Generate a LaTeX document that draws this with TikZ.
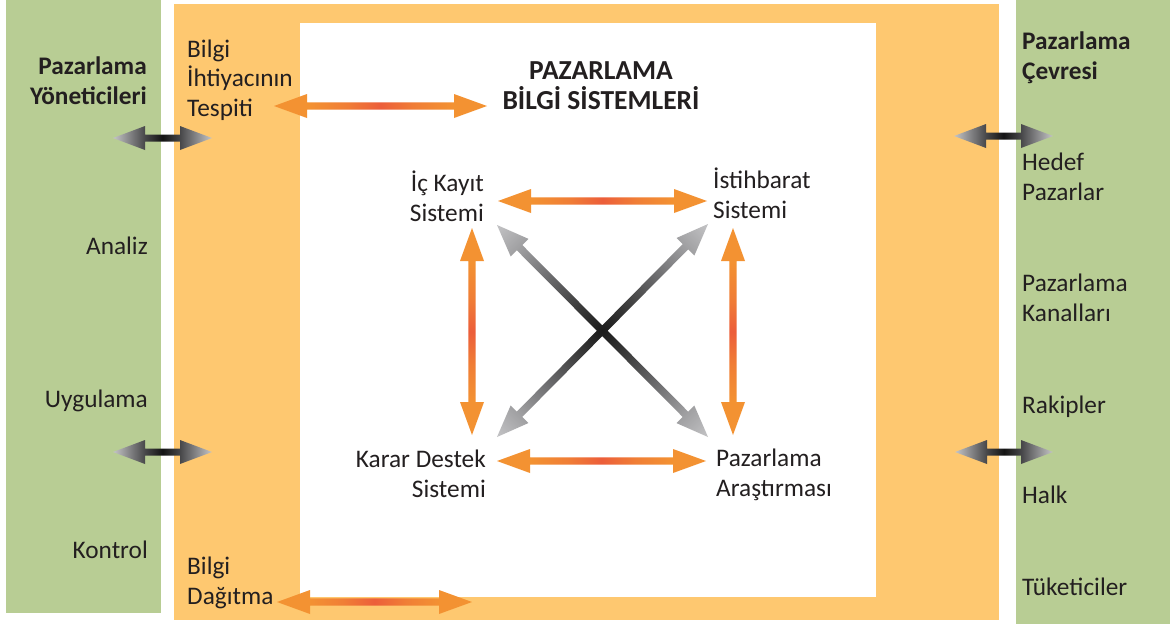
\documentclass[tikz,border=0pt]{standalone}
\usepackage{fontspec}
\setmainfont{Carlito}
\usetikzlibrary{calc}
\definecolor{pgreen}{HTML}{B8CD94}
\definecolor{porange}{HTML}{FEC870}
\definecolor{arrA}{HTML}{F39232}
\definecolor{arrM}{HTML}{F07E36}
\definecolor{arrB}{HTML}{EC5E3A}
\definecolor{txt}{HTML}{231F20}
\definecolor{gLight}{HTML}{C6C6C8}
\definecolor{gDark}{HTML}{48484A}
\definecolor{gBlack}{HTML}{141414}
\definecolor{xA}{HTML}{1A1A1A}
\definecolor{xB}{HTML}{3C3C3C}
\definecolor{xC}{HTML}{6C6C6E}
\definecolor{xD}{HTML}{9C9C9E}
\definecolor{xE}{HTML}{C2C2C4}
\pgfdeclarehorizontalshading{orangearr}{100bp}{color(0bp)=(arrA); color(33bp)=(arrA); color(42bp)=(arrM); color(50bp)=(arrB); color(58bp)=(arrM); color(67bp)=(arrA); color(100bp)=(arrA)}
\pgfdeclarehorizontalshading{grayarr}{100bp}{color(0bp)=(gLight); color(25bp)=(gLight); color(41bp)=(gDark); color(50bp)=(gBlack); color(59bp)=(gDark); color(75bp)=(gLight); color(100bp)=(gLight)}
\pgfdeclareradialshading{xshade}{\pgfpoint{0bp}{0bp}}{color(0bp)=(xA); color(8bp)=(xB); color(18bp)=(xC); color(27bp)=(xD); color(35bp)=(xE); color(50bp)=(xE)}
\tikzset{
  fatarrow/.style n args={5}{insert path={(#1) -- ($(#1)!#3!(#2)!#4!90:(#2)$) -- ($(#1)!#3!(#2)!#5!90:(#2)$) -- ($(#2)!#3!(#1)!#5!-90:(#1)$) -- ($(#2)!#3!(#1)!#4!-90:(#1)$) -- (#2) -- ($(#2)!#3!(#1)!#4!90:(#1)$) -- ($(#2)!#3!(#1)!#5!90:(#1)$) -- ($(#1)!#3!(#2)!#5!-90:(#2)$) -- ($(#1)!#3!(#2)!#4!-90:(#2)$) -- cycle}},
  lbl/.style={inner sep=0pt, text=txt, font=\fontsize{25.3}{29.5}\selectfont},
  blbl/.style={lbl, font=\fontsize{25.3}{29.5}\selectfont\bfseries},
  tlbl/.style={lbl, font=\fontsize{27.5}{30}\selectfont\bfseries},
  oarrow/.style={shading=orangearr},
  garrow/.style={shading=grayarr, shading angle=0},
}
\begin{document}
\begin{tikzpicture}[x=1pt,y=-1pt]
\useasboundingbox (0,0) rectangle (1170,624);
% panels
\fill[white] (0,0) rectangle (1170,624);
\fill[pgreen] (6,0) rectangle (161,613);
\fill[porange] (174,4) rectangle (999,620);
\fill[white] (300,23) rectangle (876,597);
\fill[pgreen] (1016,0) rectangle (1170,624);
% left texts
\node[blbl, anchor=base east, align=right] (yon) at (147,104) {Pazarlama\\Yöneticileri};
\node[lbl, anchor=base east] (analiz) at (148,254) {Analiz};
\node[lbl, anchor=base east] (uyg) at (148,407) {Uygulama};
\node[lbl, anchor=base east] (kontrol) at (148,558) {Kontrol};
% orange band texts
\node[lbl, anchor=base west, align=left] (ihtiyac) at (187,116) {Bilgi\\İhtiyacının\\Tespiti};
\node[lbl, anchor=base west, align=left] (dagitma) at (187,604) {Bilgi\\Dağıtma};
% centre
\node[tlbl, anchor=base, align=center] (title) at (601,109) {PAZARLAMA\\BİLGİ SİSTEMLERİ};
\node[lbl, anchor=base east, align=right] (ickayit) at (484,221) {İç Kayıt\\Sistemi};
\node[lbl, anchor=base west, align=left] (istihbarat) at (713,218) {İstihbarat\\Sistemi};
\node[lbl, anchor=base east, align=right] (karar) at (486,497) {Karar Destek\\Sistemi};
\node[lbl, anchor=base west, align=left] (arastirma) at (716,496) {Pazarlama\\Araştırması};
% right texts
\node[blbl, anchor=base west, align=left] (cevre) at (1022,79) {Pazarlama\\Çevresi};
\node[lbl, anchor=base west, align=left] (hedef) at (1022,200) {Hedef\\Pazarlar};
\node[lbl, anchor=base west, align=left] (kanal) at (1022,321) {Pazarlama\\Kanalları};
\node[lbl, anchor=base west] (rakip) at (1022,413) {Rakipler};
\node[lbl, anchor=base west] (halk) at (1022,503) {Halk};
\node[lbl, anchor=base west] (tuketici) at (1022,595) {Tüketiciler};
% arrow end points
\coordinate (lt1) at (113,138); \coordinate (lt2) at (212,138);
\coordinate (lb1) at (113,452); \coordinate (lb2) at (212,452);
\coordinate (rt1) at (954,136); \coordinate (rt2) at (1053,136);
\coordinate (rb1) at (955,452); \coordinate (rb2) at (1053,452);
\coordinate (ih1) at (274,106); \coordinate (ih2) at (487,106);
\coordinate (top1) at (498,201); \coordinate (top2) at (707,201);
\coordinate (bot1) at (497,461); \coordinate (bot2) at (706,461);
\coordinate (lv1) at (472,228); \coordinate (lv2) at (472,435);
\coordinate (rv1) at (733,228); \coordinate (rv2) at (733,435);
\coordinate (dg1) at (277,602); \coordinate (dg2) at (472,602);
\coordinate (xa1) at (497,225); \coordinate (xa2) at (708,437);
\coordinate (xb1) at (708,224); \coordinate (xb2) at (497,437);
% gray side arrows
\shade[garrow, fatarrow={lt1}{lt2}{32pt}{12pt}{3.5pt}];
\shade[garrow, fatarrow={lb1}{lb2}{32pt}{12pt}{3.5pt}];
\shade[garrow, fatarrow={rt1}{rt2}{32pt}{12pt}{3.5pt}];
\shade[garrow, fatarrow={rb1}{rb2}{32pt}{12pt}{3.5pt}];
% orange arrows
\shade[oarrow, shading angle=0, fatarrow={ih1}{ih2}{33pt}{12pt}{3.7pt}];
\shade[oarrow, shading angle=0, fatarrow={top1}{top2}{33pt}{12pt}{3.7pt}];
\shade[oarrow, shading angle=0, fatarrow={bot1}{bot2}{33pt}{12pt}{3.7pt}];
\shade[oarrow, shading angle=0, fatarrow={dg1}{dg2}{33pt}{12pt}{3.7pt}];
\shade[oarrow, shading angle=90, fatarrow={lv1}{lv2}{33pt}{12pt}{3.7pt}];
\shade[oarrow, shading angle=90, fatarrow={rv1}{rv2}{33pt}{12pt}{3.7pt}];
% diagonal gray arrows
\shade[shading=xshade, fatarrow={xa1}{xa2}{32pt}{12.5pt}{3.8pt}, fatarrow={xb1}{xb2}{32pt}{12.5pt}{3.8pt}];
\end{tikzpicture}
\end{document}
